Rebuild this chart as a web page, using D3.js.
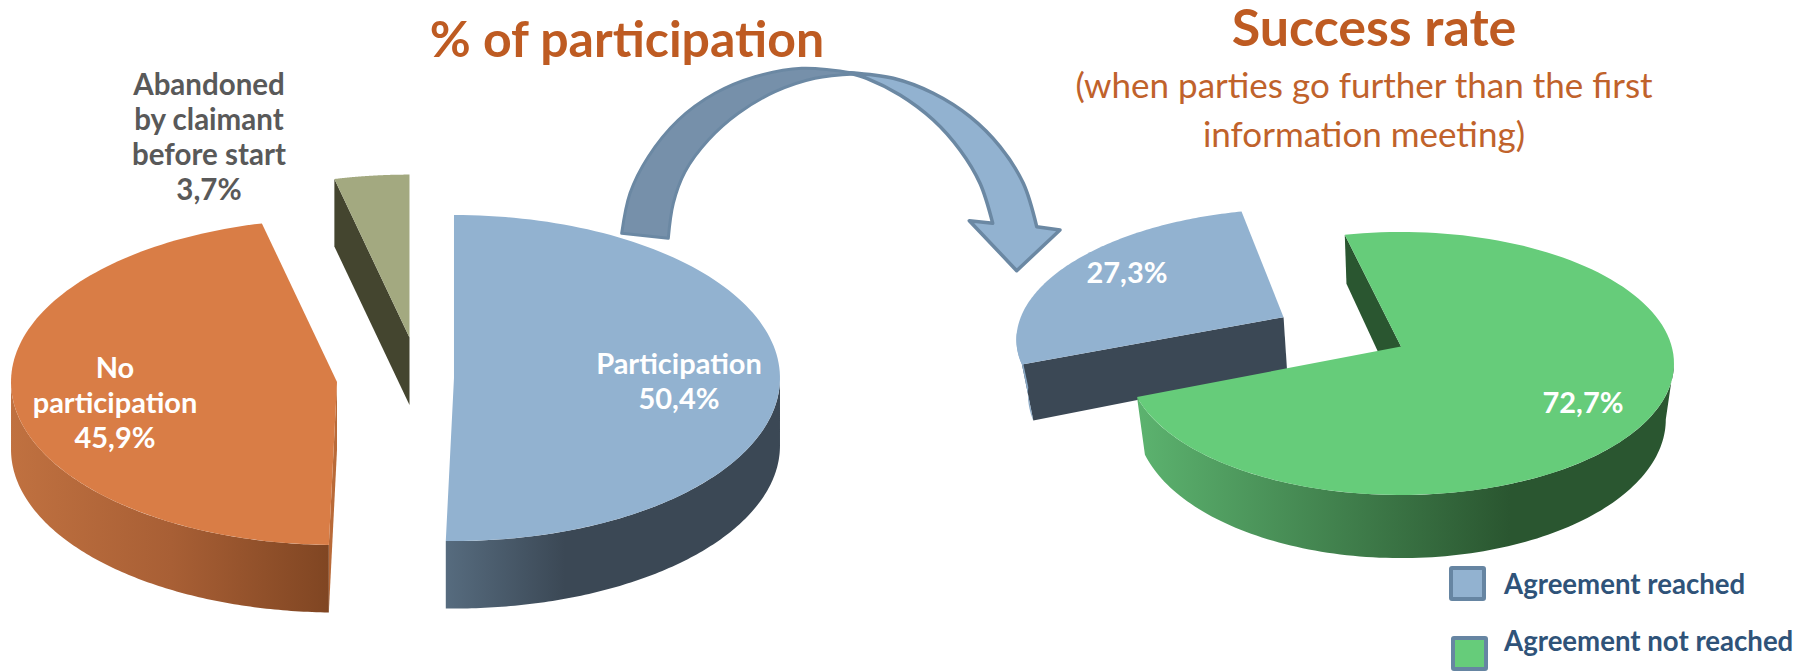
<!DOCTYPE html>
<html>
<head>
<meta charset="utf-8">
<title>% of participation and success rate</title>
<script src="https://cdnjs.cloudflare.com/ajax/libs/d3/7.8.5/d3.min.js"></script>
<style>
  html, body { margin: 0; background: #fff; }
  svg { display: block; }
  text { font-family: Lato, "Open Sans", sans-serif; }
</style>
</head>
<body>
<svg id="chart" width="1802" height="671"></svg>
<script>
// Values
const participationNames = ['Participation', 'No participation', 'Abandoned by claimant before start'];
const participationValues = [50.4, 45.9, 3.7];
const participationLabelLines = [['Participation'], ['No', 'participation'], ['Abandoned', 'by claimant', 'before start']];

const successNames = ['Agreement reached', 'Agreement not reached'];
const successValues = [27.3, 72.7];

const titleParticipation = '% of participation';
const titleSuccess = 'Success rate';
const subtitleLines = ['(when parties go further than the first', 'information meeting)'];

const DEG = Math.PI / 180;
const fmt = v => v.toFixed(1).replace('.', ',') + '%';

const svg = d3.select('#chart');
const defs = svg.append('defs');

// Horizontal shading for the outer walls of the pies
function wallGradient(id, x1, x2, stops) {
  const g = defs.append('linearGradient').attr('id', id)
    .attr('gradientUnits', 'userSpaceOnUse')
    .attr('x1', x1).attr('x2', x2).attr('y1', 0).attr('y2', 0);
  stops.forEach(s => g.append('stop').attr('offset', s[0]).attr('stop-color', s[1]));
  return `url(#${id})`;
}

// Pie geometry: a flat disc seen through a small perspective.
// p = perspective strength, shrink = how much the bottom face narrows.
const leftPie = {
  cx: 395.5, cy: 379, rx: 326, ry: 163, depth: 67.5, p: 0, shrink: 0, startDeg: 0,
  slices: [
    { off: [0.1794, 0.006], top: '#92B2D0', face: '#3B4855',
      wall: wallGradient('wallBlue', 447, 565, [[0, '#566B7E'], [1, '#3B4855']]) },
    { off: [-0.1794, -0.0184], top: '#D97D46', face: '#B96A38',
      wall: wallGradient('wallOrange', 11, 332, [[0, '#C07140'], [0.5, '#A85F35'], [1, '#7F4522']]) },
    { off: [0.0429, 0.254], top: '#A3A980', face: '#44452F', wall: '#44452F' }
  ]
};
const rightPie = {
  cx: 1401, cy: 346.5, rx: 270.7, ry: 129.3, depth: 55, p: 0.129, shrink: 0.03, startDeg: 248.2,
  slices: [
    { off: [-0.447, 0.234], top: '#92B2D0', face: '#3B4855', wall: '#8AA9C6' },
    { off: [0, 0], top: '#66CC7A', face: '#2A5630',
      wall: wallGradient('wallGreen', 1137, 1510, [[0, '#5CB36F'], [1, '#2A5630']]) }
  ]
};

const line = d3.line();

function drawPie(conf, values) {
  const arcs = d3.pie().sort(null)
    .startAngle(conf.startDeg * DEG)
    .endAngle(conf.startDeg * DEG + 2 * Math.PI)(values);

  // unit disc (X right, Y away from viewer, Z 0 top / 1 bottom) to screen
  const project = (X, Y, Z) => {
    const w = 1 + conf.p * Y;
    return [
      conf.cx + conf.rx * X / w * (1 - conf.shrink * Z),
      conf.cy - conf.ry * Y / w + conf.depth * Z / w
    ];
  };
  const g = svg.append('g');

  // where the rim stops being visible from the front (the disc's silhouette)
  const edge = Math.acos(-conf.p);

  // paint the rearmost slices first
  const order = conf === leftPie ? [2, 1, 0] : [0, 1];
  order.forEach(i => {
    const s = conf.slices[i], a = arcs[i];
    const rim = (t, Z) => project(s.off[0] + Math.sin(t), s.off[1] + Math.cos(t), Z);
    const apex = Z => project(s.off[0], s.off[1], Z);
    const sweep = (t0, t1, Z) => d3.range(0, 121).map(k => rim(t0 + (t1 - t0) * k / 120, Z));

    // cut face, only when it turns towards the viewer
    [[a.startAngle, 1], [a.endAngle, -1]].forEach(([t, side]) => {
      if (side * Math.sin(t) < -1e-3) {
        g.append('path')
          .attr('d', line([rim(t, 0), apex(0), apex(1), rim(t, 1)]) + 'Z')
          .attr('fill', s.face);
      }
    });

    // outer wall on the front part of the rim
    [edge, edge + 2 * Math.PI].forEach(from => {
      const t0 = Math.max(a.startAngle, from), t1 = Math.min(a.endAngle, from + 2 * Math.PI - 2 * edge);
      if (t1 > t0) {
        g.append('path')
          .attr('d', line(sweep(t0, t1, 0).concat(sweep(t1, t0, 1))) + 'Z')
          .attr('fill', s.wall);
      }
    });

    // top surface
    g.append('path')
      .attr('d', line([apex(0)].concat(sweep(a.startAngle, a.endAngle, 0))) + 'Z')
      .attr('fill', s.top);
  });
}

drawPie(leftPie, participationValues);
drawPie(rightPie, successValues);

// Curved arrow between the two pies
const curve = d3.line().curve(d3.curveCatmullRom.alpha(0.5));
const join = (...parts) => parts.map((d, i) => i ? d.replace(/^M/, 'L') : d).join('') + 'Z';

const arrowBackOuter = [[621.7, 233.3], [630, 193.3], [648.3, 156.7], [678.3, 120], [715, 93.3], [755, 76.7], [801.7, 68.3], [855, 73.3]];
const arrowBackInner = [[855, 74], [815, 78.3], [775, 91.7], [738.3, 113.3], [708.3, 140], [685, 171.7], [673.3, 203.3], [668.3, 238.3]];
const arrowFrontOuter = [[850, 72.7], [893.3, 78.3], [933.3, 93.3], [970, 116.7], [1000, 146.7], [1023.3, 183.3], [1036.7, 226.7]];
const arrowHead = [[1036.7, 226.7], [1060, 230], [1016.7, 270.7], [969.3, 220.7], [992.7, 223.3]];
const arrowFrontInner = [[992.7, 223.3], [980, 183.3], [960, 150], [933.3, 120], [900, 95], [866.7, 78.3], [850, 73.3]];

svg.append('path')
  .attr('d', join(curve(arrowBackOuter), curve(arrowBackInner)))
  .attr('fill', '#7690AA').attr('stroke', '#6B88A3').attr('stroke-width', 3).attr('stroke-linejoin', 'round');
svg.append('path')
  .attr('d', join(curve(arrowFrontOuter), line(arrowHead), curve(arrowFrontInner)))
  .attr('fill', '#92B2D0').attr('stroke', '#6B88A3').attr('stroke-width', 3.5).attr('stroke-linejoin', 'round');

// Titles
function label(lines, x, ys, size, color, weight) {
  lines.forEach((t, i) => svg.append('text')
    .attr('x', x).attr('y', ys[i])
    .attr('text-anchor', 'middle')
    .attr('font-size', size).attr('font-weight', weight).attr('fill', color)
    .text(t));
}
label([titleParticipation], 627, [57], 50, '#BE5B22', 700);
label([titleSuccess], 1374, [46], 52, '#BE5B22', 700);
label(subtitleLines, 1364, [98, 147], 35, '#C0622B', 400);

// Slice labels
const [partIdx, noIdx, abIdx] = [0, 1, 2];
label([...participationLabelLines[abIdx], fmt(participationValues[abIdx])], 209, [95, 130, 164.5, 200], 29.5, '#595959', 700);
label([...participationLabelLines[noIdx], fmt(participationValues[noIdx])], 115, [378, 413, 448], 29, '#FFFFFF', 700);
label([...participationLabelLines[partIdx], fmt(participationValues[partIdx])], 679, [374, 409], 29, '#FFFFFF', 700);
label([fmt(successValues[0])], 1127, [283], 29, '#FFFFFF', 700);
label([fmt(successValues[1])], 1583, [413], 29, '#FFFFFF', 700);

// Legend
const legendColors = ['#92B2D0', '#66CC7A'];
const legendBoxes = [[1451, 568], [1453, 638]];
const legendBaselines = [594, 651];
successNames.forEach((name, i) => {
  svg.append('rect')
    .attr('x', legendBoxes[i][0]).attr('y', legendBoxes[i][1])
    .attr('width', 33).attr('height', 31)
    .attr('fill', legendColors[i]).attr('stroke', '#6685A2').attr('stroke-width', 4).attr('rx', 1);
  svg.append('text')
    .attr('x', 1504).attr('y', legendBaselines[i])
    .attr('font-size', 27.6).attr('font-weight', 700).attr('fill', '#2F5379')
    .text(name);
});
</script>
</body>
</html>
